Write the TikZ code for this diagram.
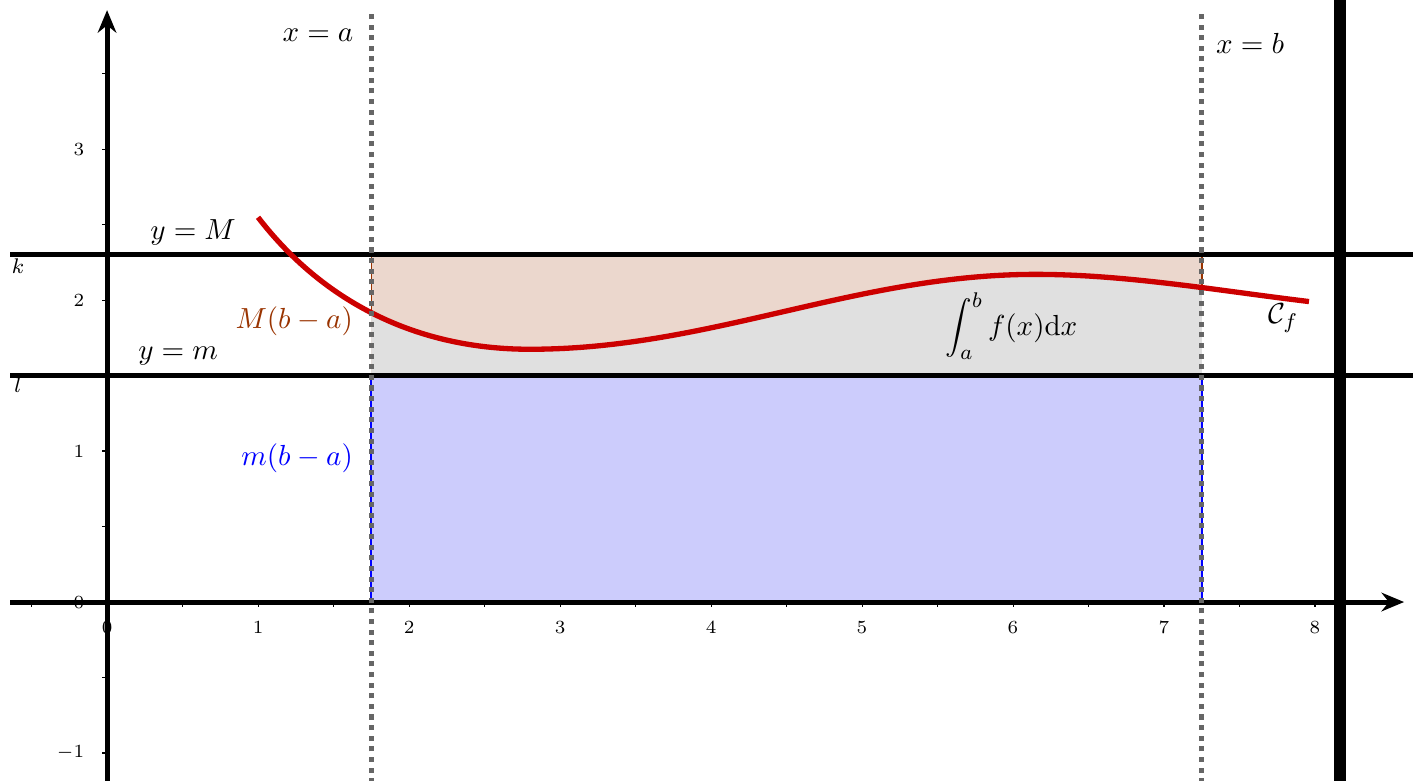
\documentclass[tikz,border=0pt]{standalone}
\usetikzlibrary{arrows.meta}
\definecolor{courbe}{RGB}{204,0,0}
\definecolor{brun}{RGB}{153,51,0}
\definecolor{brunclair}{RGB}{235,215,205}
\definecolor{grisclair}{RGB}{224,224,224}
\definecolor{bleuclair}{RGB}{204,204,252}
\definecolor{pointille}{RGB}{102,102,102}

\begin{document}
\begin{tikzpicture}[x=2cm,y=2cm,>=Stealth,font=\fontsize{11}{13}\selectfont]
\tikzstyle{ligne}=[line width=1.9pt]
\tikzstyle{pointilles}=[pointille,line width=1.9pt,dash pattern=on 1.9pt off 2.1pt]
\tikzstyle{graduation}=[font=\fontsize{7}{8}\selectfont]
\useasboundingbox (-0.709,-1.179) rectangle (8.649,3.987);
% aires entre a et b
\fill[bleuclair] (1.75,0) rectangle (7.25,1.5);
\fill[brunclair] (1.75,1.5) rectangle (7.25,2.3);
\begin{scope}
\clip (1.75,1.5) rectangle (7.25,2.3);
\fill[grisclair] (1,2.548) .. controls (1.4,2.028) and (2.0,1.674) .. (2.8,1.674) .. controls (4.0,1.674) and (4.95,2.17) .. (6.15,2.17) .. controls (6.75,2.17) and (7.36,2.062) .. (7.96,1.99) -- (7.96,1.5) -- (1,1.5) -- cycle;
\end{scope}
\draw[brun,line width=0.6pt] (1.75,1.9) -- (1.75,2.3) (7.25,2.08) -- (7.25,2.3);
\draw[blue,line width=0.8pt] (1.75,1.5) -- (1.75,0) -- (7.25,0) -- (7.25,1.5);
% graduations
\foreach \x in {-0.5,0,...,8.5} \draw[line width=0.4pt] (\x,0) -- (\x,-0.035);
\foreach \y in {-1,-0.5,...,3.5} \draw[line width=0.4pt] (0,\y) -- (-0.035,\y);
\foreach \x in {0,...,8} \node[graduation] (gx\x) at (\x,-0.17) {$\x$};
\foreach \y in {-1,...,3} \node[graduation,anchor=east] (gy\y) at (-0.09,\y) {$\y$};
% axes et droites
\draw[ligne,-{Stealth[length=8.5pt,width=7pt]}] (-0.642,0) -- (8.59,0);
\draw[ligne,-{Stealth[length=8.5pt,width=7pt]}] (0,-1.2) -- (0,3.92);
\draw[ligne] (-0.642,2.3) -- (8.66,2.3);
\draw[ligne] (-0.642,1.5) -- (8.66,1.5);
\draw[line width=4.5pt] (8.166,-1.2) -- (8.166,4.0);
% courbe
\draw[courbe,line width=2pt] (1,2.548) .. controls (1.4,2.028) and (2.0,1.674) .. (2.8,1.674) .. controls (4.0,1.674) and (4.95,2.17) .. (6.15,2.17) .. controls (6.75,2.17) and (7.36,2.062) .. (7.96,1.99);
\draw[pointilles] (1.75,-1.2) -- (1.75,3.92);
\draw[pointilles] (7.25,-1.2) -- (7.25,3.92);
% textes
\node (xa) at (1.397,3.755) {$x=a$};
\node (xb) at (7.57,3.70) {$x=b$};
\node (yM) at (0.57,2.45) {$y=M$};
\node (ym) at (0.47,1.63) {$y=m$};
\node[font=\fontsize{8}{9}\selectfont] (k) at (-0.59,2.225) {$k$};
\node[font=\fontsize{8}{9}\selectfont] (l) at (-0.59,1.437) {$l$};
\node[brun,anchor=east] (aireM) at (1.69,1.86) {$M(b-a)$};
\node[blue,anchor=east] (airem) at (1.69,0.954) {$m(b-a)$};
\node (integ) at (5.99,1.83) {$\displaystyle\int_a^b f(x)\mathrm{d}x$};
\node (cf) at (7.79,1.88) {$\mathcal{C}_f$};
\end{tikzpicture}
\end{document}
